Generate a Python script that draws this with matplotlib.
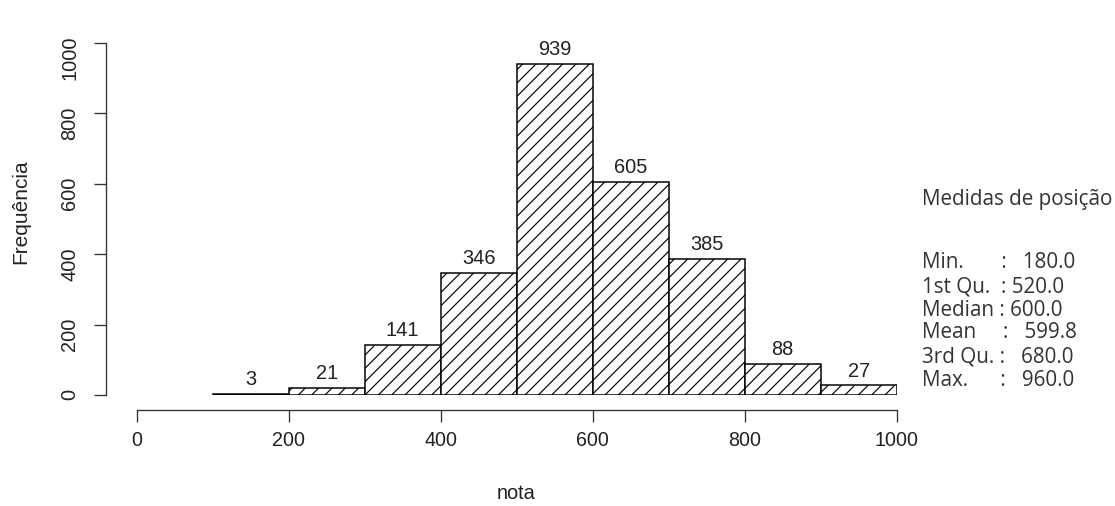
import matplotlib
matplotlib.use("Agg")
import matplotlib.pyplot as plt

# ---- data ----
bin_edges = [100, 200, 300, 400, 500, 600, 700, 800, 900, 1000]
counts = [3, 21, 141, 346, 939, 605, 385, 88, 27]
x_ticks = [0, 200, 400, 600, 800, 1000]
y_ticks = [0, 200, 400, 600, 800, 1000]
x_label = "nota"
y_label = "Frequência"
stats_title = "Medidas de posição"
stats_lines = [
    "Min.       :   180.0",
    "1st Qu.  : 520.0",
    "Median : 600.0",
    "Mean     :   599.8",
    "3rd Qu. :   680.0",
    "Max.      :   960.0",
]

W, H, DPI = 1115, 507, 120
plt.rcParams['hatch.linewidth'] = 0.7
plt.rcParams['font.family'] = ['Liberation Sans', 'DejaVu Sans']
TXT = '#222222'

fig = plt.figure(figsize=(W / DPI, H / DPI), dpi=DPI)
left, right = 136.7, 896.7
bottom, top = 396.0, 43.5
ax = fig.add_axes([left / W, (H - bottom) / H, (right - left) / W, (bottom - top) / H])

lefts = bin_edges[:-1]
widths = [b - a for a, b in zip(bin_edges[:-1], bin_edges[1:])]
bars = ax.bar(lefts, counts, width=widths, align='edge', color='white',
              edgecolor='black', linewidth=0.9, hatch='///')
ax.bar_label(bars, labels=[str(c) for c in counts], padding=3.5,
             fontsize=12, color=TXT)

ax.set_xlim(0, 1000)
ax.set_ylim(0, 1000)
ax.set_xticks(x_ticks)
ax.set_yticks(y_ticks)
ax.tick_params(axis='both', colors='#333333', length=7, width=0.8)
ax.tick_params(axis='x', labelcolor=TXT, labelsize=11.8, pad=5)
ax.tick_params(axis='y', labelcolor=TXT, labelsize=12, pad=9, labelrotation=90)
for t in ax.get_yticklabels():
    t.set_va('center')

for s in ['top', 'right']:
    ax.spines[s].set_visible(False)
ax.spines['left'].set_position(('outward', 18.6))
ax.spines['bottom'].set_position(('outward', 9))
ax.spines['left'].set_bounds(0, 1000)
ax.spines['bottom'].set_bounds(0, 1000)
for s in ['left', 'bottom']:
    ax.spines[s].set_linewidth(0.8)
    ax.spines[s].set_color('#333333')

fig.text(516 / W, 1 - 494 / H, x_label, ha='center', va='center', fontsize=12,
         color=TXT)
fig.text(21 / W, 1 - 212 / H, y_label, ha='center', va='center', rotation=90,
         fontsize=12.5, color=TXT)

sfont = ['Open Sans', 'DejaVu Sans']
fig.text(922 / W, 1 - 200 / H, stats_title, ha='left', va='center', fontsize=12.4,
         family=sfont, color='#333333')
ys = [263, 287, 310, 333, 357, 380]
for y, line in zip(ys, stats_lines):
    fig.text(922 / W, 1 - y / H, line, ha='left', va='center', fontsize=12.4,
             family=sfont, color='#333333')

fig.savefig("out.png", dpi=DPI)
